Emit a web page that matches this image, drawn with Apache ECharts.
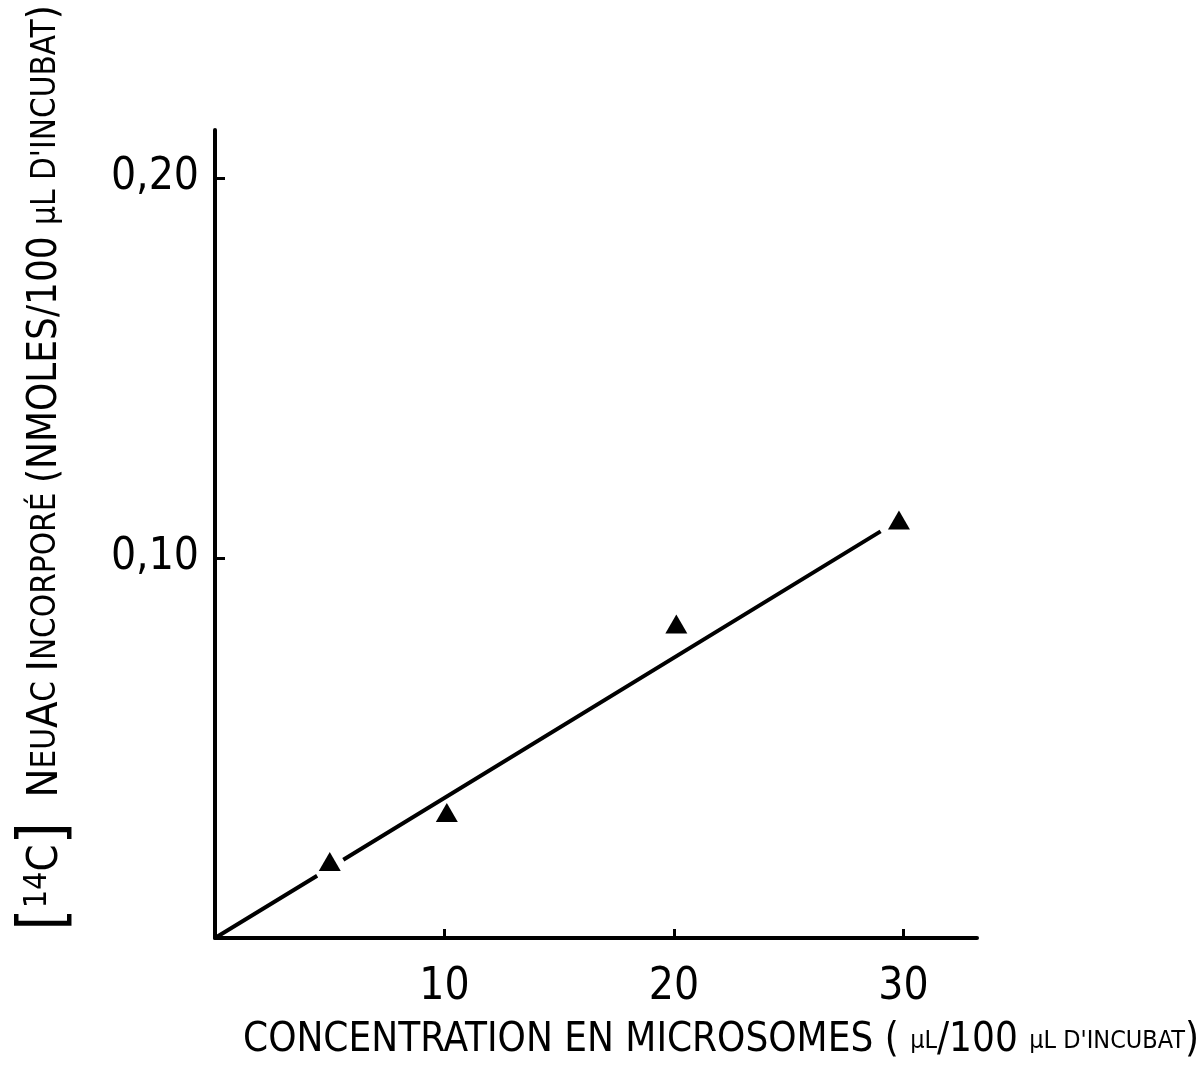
<!DOCTYPE html>
<html>
<head>
<meta charset="utf-8">
<script src="https://cdn.jsdelivr.net/npm/echarts@6/dist/echarts.min.js"></script>
<style>html,body{margin:0;padding:0;background:#fff;}#c{width:1201px;height:1069px;}</style>
</head>
<body>
<div id="c"></div>
<script>
// Measured points (triangles)
var concX = [5, 10.1, 20.1, 29.8];
var incorpY = [0.0201, 0.0330, 0.0826, 0.1100];
// Fitted line (drawn with a small gap around the first point, as in the original)
var fitX = [0, 4.45, null, 5.59, 29.0];
var fitY = [0, 0.0164, null, 0.0206, 0.1070];
// Tick labels
var xTicks = [10, 20, 30];
var yTicks = [0.10, 0.20];
var yTickLabels = ['0,10', '0,20'];

var FONT = '"Liberation Sans Narrow", "DejaVu Sans Condensed", "DejaVu Sans Mono", monospace';

var pts = concX.map(function (x, i) { return [x, incorpY[i]]; });
var fit = fitX.map(function (x, i) { return x === null ? '-' : [x, fitY[i]]; });

var chart = echarts.init(document.getElementById('c'));
chart.setOption({
  backgroundColor: '#fff',
  animation: false,
  grid: { left: 215, right: 224, top: 130, bottom: 131 },
  xAxis: {
    type: 'value', min: 0, max: 33.2,
    splitLine: { show: false },
    axisLine: { lineStyle: { color: '#000', width: 4 } },
    axisTick: { inside: true, length: 9, lineStyle: { color: '#000', width: 3 }, customValues: xTicks },
    axisLabel: {
      customValues: xTicks, margin: 28, color: '#000',
      fontFamily: FONT, fontSize: 44
    }
  },
  yAxis: {
    type: 'value', min: 0, max: 0.2126,
    splitLine: { show: false },
    axisLine: { lineStyle: { color: '#000', width: 4 } },
    axisTick: { inside: true, length: 10, lineStyle: { color: '#000', width: 3 }, customValues: yTicks },
    axisLabel: {
      customValues: yTicks, margin: 16, color: '#000',
      fontFamily: FONT, fontSize: 44,
      formatter: function (v) { return yTickLabels[yTicks.indexOf(Math.round(v * 100) / 100)] || ''; }
    }
  },
  series: [
    {
      type: 'line', data: fit, showSymbol: false, connectNulls: false,
      lineStyle: { color: '#000', width: 4 }, silent: true
    },
    {
      type: 'scatter', data: pts, symbol: 'triangle', symbolSize: [22, 19],
      itemStyle: { color: '#000', opacity: 1 }
    }
  ],
  graphic: [
    {
      type: 'text', left: 243, top: 1021,
      style: {
        text: '{b|CONCENTRATION EN MICROSOMES ( }{s|µL}{b|/100 }{s|µL D\'INCUBAT}{b|)}',
        fill: '#000',
        rich: {
          b: { fontFamily: FONT, fontSize: 40, fill: '#000' },
          s: { fontFamily: FONT, fontSize: 25, fill: '#000' }
        }
      }
    },
    {
      type: 'text', x: 46, y: 468, rotation: Math.PI / 2,
      style: {
        text: '{br|[}{sup|14}{b|C}{br|]}{b|  N}{s|EU}{b|A}{s|C }{b|I}{s|NCORPORÉ }{m|(NMOLES/100 }{s|µL D\'INCUBAT}{m|)}',
        align: 'center', verticalAlign: 'middle', fill: '#000',
        rich: {
          br: { fontFamily: FONT, fontSize: 64, fill: '#000' },
          sup: { fontFamily: FONT, fontSize: 32, fill: '#000', padding: [0, 0, 16, 0] },
          b: { fontFamily: FONT, fontSize: 43, fill: '#000' },
          m: { fontFamily: FONT, fontSize: 40, fill: '#000' },
          s: { fontFamily: FONT, fontSize: 33, fill: '#000' }
        }
      }
    }
  ]
});
</script>
</body>
</html>
